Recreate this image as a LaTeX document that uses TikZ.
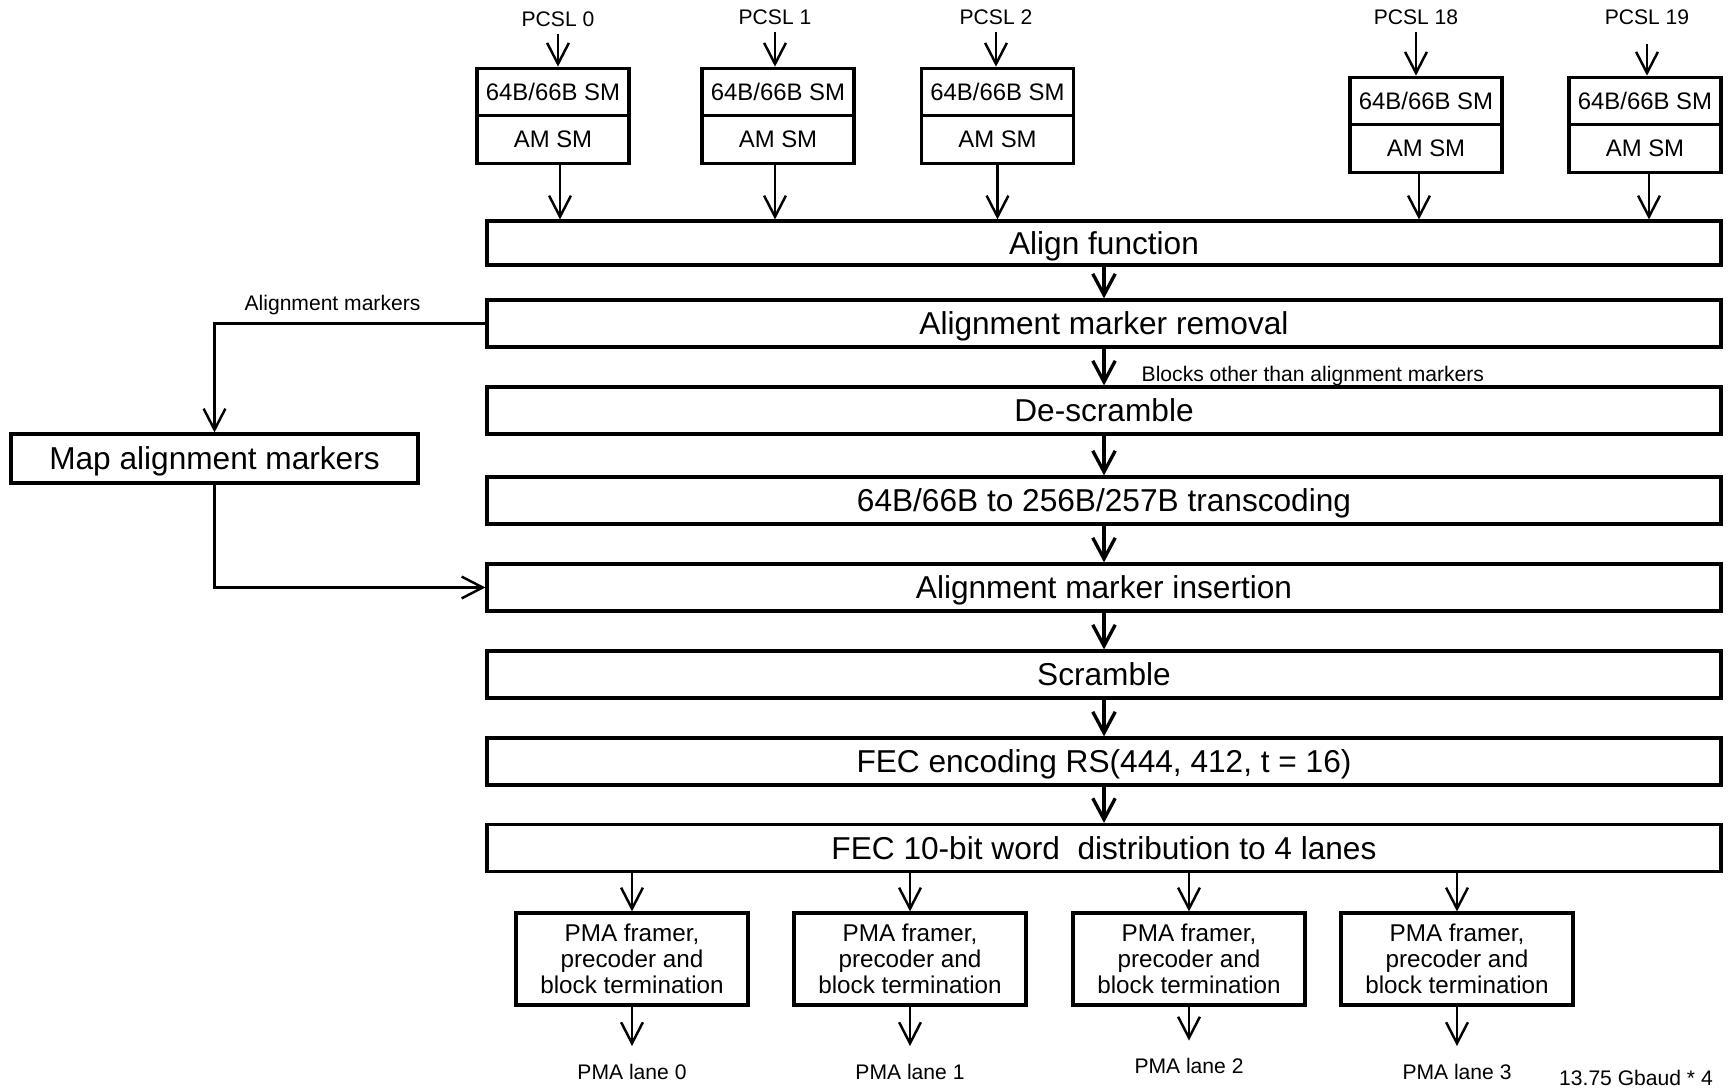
\documentclass[tikz,border=0pt]{standalone}
\usepackage{fontspec}
\setmainfont{Liberation Sans}
\usetikzlibrary{arrows.meta}

\begin{document}
\begin{tikzpicture}[x=0.1mm, y=-0.1mm,
    stage/.style={draw, line width=0.9pt, minimum width=123.4mm, minimum height=4.7mm, inner sep=0pt, text depth=0pt, font=\fontsize{9}{10}\selectfont},
    smbox/.style={draw, line width=0.9pt, minimum width=15.2mm, minimum height=4.75mm, inner sep=0pt, font=\fontsize{6.8}{8}\selectfont},
    pmabox/.style={draw, line width=0.9pt, minimum width=23.2mm, minimum height=9.2mm, inner sep=0pt, align=center, font=\fontsize{6.9}{7.3}\selectfont},
    lbl/.style={inner sep=2pt, font=\fontsize{6}{7}\selectfont},
    flow/.style={-{Straight Barb[length=6pt, width=6.4pt]}, line width=0.95pt},
    feed/.style={-{Straight Barb[length=6pt, width=6.2pt]}, line width=0.7pt}]
    \useasboundingbox (0,0) rectangle (1732,1088);

    \node[lbl] (pcsl0) at (558,19) {PCSL 0};
    \node[lbl] (pcsl1) at (775,17) {PCSL 1};
    \node[lbl] (pcsl2) at (996,17) {PCSL 2};
    \node[lbl] (pcsl18) at (1416,17) {PCSL 18};
    \node[lbl] (pcsl19) at (1647,17) {PCSL 19};

    \node[smbox] (sm0) at (553,92) {64B/66B SM};
    \node[smbox] (am0) at (553,139.5) {AM SM};
    \node[smbox] (sm1) at (778,92) {64B/66B SM};
    \node[smbox] (am1) at (778,139.5) {AM SM};
    \node[smbox] (sm2) at (997.5,92) {64B/66B SM};
    \node[smbox] (am2) at (997.5,139.5) {AM SM};
    \node[smbox] (sm18) at (1426,101) {64B/66B SM};
    \node[smbox] (am18) at (1426,148.5) {AM SM};
    \node[smbox] (sm19) at (1645,101) {64B/66B SM};
    \node[smbox] (am19) at (1645,148.5) {AM SM};

    \node[stage, minimum height=4.4mm] (align) at (1104,243) {Align function};
    \node[stage] (amrem) at (1104,323.5) {Alignment marker removal};
    \node[stage] (descr) at (1104,410.5) {De-scramble};
    \node[stage] (trans) at (1104,500.5) {64B/66B to 256B/257B transcoding};
    \node[stage] (amins) at (1104,587.5) {Alignment marker insertion};
    \node[stage] (scr) at (1104,674.5) {Scramble};
    \node[stage] (fecenc) at (1104,761.5) {FEC encoding RS(444, 412, t = 16)};
    \node[stage] (fecdist) at (1104,848) {FEC 10-bit word\ \ distribution to 4 lanes};

    \node[stage, minimum width=40.7mm, minimum height=4.9mm] (map) at (214.5,458.5) {Map alignment markers};
    \node[lbl] (amlbl) at (332.5,305) {Alignment markers};
    \node[lbl, anchor=west] (blocks) at (1134,376.5) {Blocks other than alignment markers};

    \node[pmabox] (pma0) at (632,959) {PMA framer,\\precoder and\\block termination};
    \node[pmabox] (pma1) at (910,959) {PMA framer,\\precoder and\\block termination};
    \node[pmabox] (pma2) at (1189,959) {PMA framer,\\precoder and\\block termination};
    \node[pmabox] (pma3) at (1457,959) {PMA framer,\\precoder and\\block termination};

    \node[lbl] (lane0) at (632,1071.5) {PMA lane 0};
    \node[lbl] (lane1) at (910,1071.5) {PMA lane 1};
    \node[lbl] (lane2) at (1189,1066) {PMA lane 2};
    \node[lbl] (lane3) at (1457,1071.5) {PMA lane 3};
    \node[lbl] (rate) at (1636,1078) {13.75 Gbaud * 4};

    \draw[feed] (pcsl0.south) -- (pcsl0.south |- sm0.north);
    \draw[feed] (pcsl1.south) -- (pcsl1.south |- sm1.north);
    \draw[feed] (pcsl2.south) -- (pcsl2.south |- sm2.north);
    \draw[feed] (pcsl18.south) -- (pcsl18.south |- sm18.north);
    \draw[feed, shorten <=1.2mm] (pcsl19.south) -- (pcsl19.south |- sm19.north);

    \draw[feed] ([xshift=0.7mm]am0.south) -- ([xshift=0.7mm]am0.south |- align.north);
    \draw[feed] ([xshift=-0.3mm]am1.south) -- ([xshift=-0.3mm]am1.south |- align.north);
    \draw[feed] (am2.south) -- (am2.south |- align.north);
    \draw[feed] ([xshift=-0.7mm]am18.south) -- ([xshift=-0.7mm]am18.south |- align.north);
    \draw[feed] ([xshift=0.4mm]am19.south) -- ([xshift=0.4mm]am19.south |- align.north);

    \draw[flow] (align.south) -- (amrem.north);
    \draw[flow] (amrem.south) -- (descr.north);
    \draw[flow] (descr.south) -- (trans.north);
    \draw[flow] (trans.south) -- (amins.north);
    \draw[flow] (amins.south) -- (scr.north);
    \draw[flow] (scr.south) -- (fecenc.north);
    \draw[flow] (fecenc.south) -- (fecdist.north);

    \draw[feed] (amrem.west) -| (map.north);
    \draw[feed] (map.south) |- (amins.west);

    \draw[feed] (fecdist.south -| pma0.north) -- (pma0.north);
    \draw[feed] (fecdist.south -| pma1.north) -- (pma1.north);
    \draw[feed] (fecdist.south -| pma2.north) -- (pma2.north);
    \draw[feed] (fecdist.south -| pma3.north) -- (pma3.north);

    \draw[feed, shorten >=1mm] (pma0.south) -- (lane0.north);
    \draw[feed, shorten >=1mm] (pma1.south) -- (lane1.north);
    \draw[feed, shorten >=1mm] (pma2.south) -- (lane2.north);
    \draw[feed, shorten >=1mm] (pma3.south) -- (lane3.north);
\end{tikzpicture}
\end{document}
